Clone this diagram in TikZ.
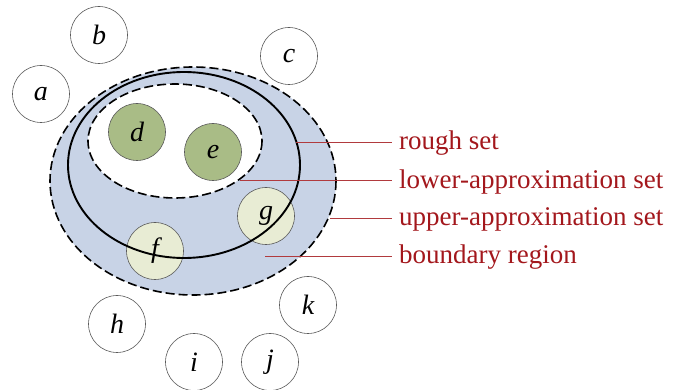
\documentclass[tikz,border=0pt]{standalone}
\usepackage{fontspec}
\setmainfont{Liberation Serif}
\definecolor{cRegion}{HTML}{C8D3E6}
\definecolor{cLower}{HTML}{A9BC86}
\definecolor{cBound}{HTML}{E8ECD4}
\definecolor{cEdge}{HTML}{5A5A5A}
\definecolor{cLabel}{HTML}{A3171C}

\begin{document}
\begin{tikzpicture}[
  x=1pt, y=-1pt,
  elem/.style={
    circle, draw=cEdge, fill=#1, line width=0.6pt,
    minimum size=57pt, inner sep=0pt,
    font=\fontsize{28}{30}\selectfont\itshape
  },
  elem/.default=white,
  setline/.style={dash pattern=on 9pt off 4pt, line width=1.6pt},
  lead/.style={draw=cLabel!85, line width=0.8pt, shorten >=7pt},
  tag/.style={
    anchor=mid west, text=cLabel, inner sep=0pt,
    font=\fontsize{27}{30}\selectfont
  },
]
\useasboundingbox (0,0) rectangle (678,390);

% upper and lower approximation
\draw[setline, fill=cRegion] (193,181) ellipse [x radius=143, y radius=114];
\draw[setline, fill=white] (175,141) ellipse [x radius=87, y radius=57];

% elements of the universe
\node[elem] (a) at (41,94) {a};
\node[elem] (b) at (99,35) {b};
\node[elem] (c) at (289,56) {c};
\node[elem=cLower] (d) at (137,132) {d};
\node[elem=cLower] (e) at (213,152) {e};
\node[elem=cBound] (f) at (155,251) {f};
\node[elem=cBound] (g) at (266,216) {g};
\node[elem] (h) at (117,324) {h};
\node[elem] (i) at (194,362) {i};
\node[elem] (j) at (270,362) {j};
\node[elem] (k) at (308,305) {k};

% rough set
\draw[line width=1.9pt] (184,165) ellipse [x radius=116, y radius=93];

% leader lines and labels
\coordinate (roughpt) at (296,142);
\coordinate (lowerpt) at (240,180);
\coordinate (upperpt) at (330,218);
\coordinate (boundpt) at (265,256);

\node[tag] (rough) at (399,147) {rough set};
\node[tag] (lower) at (399,186) {lower-approximation set};
\node[tag] (upper) at (399,223) {upper-approximation set};
\node[tag] (bound) at (399,261) {boundary region};

\draw[lead] (roughpt) -- (roughpt -| rough.west);
\draw[lead] (lowerpt) -- (lowerpt -| lower.west);
\draw[lead] (upperpt) -- (upperpt -| upper.west);
\draw[lead] (boundpt) -- (boundpt -| bound.west);

\end{tikzpicture}
\end{document}
